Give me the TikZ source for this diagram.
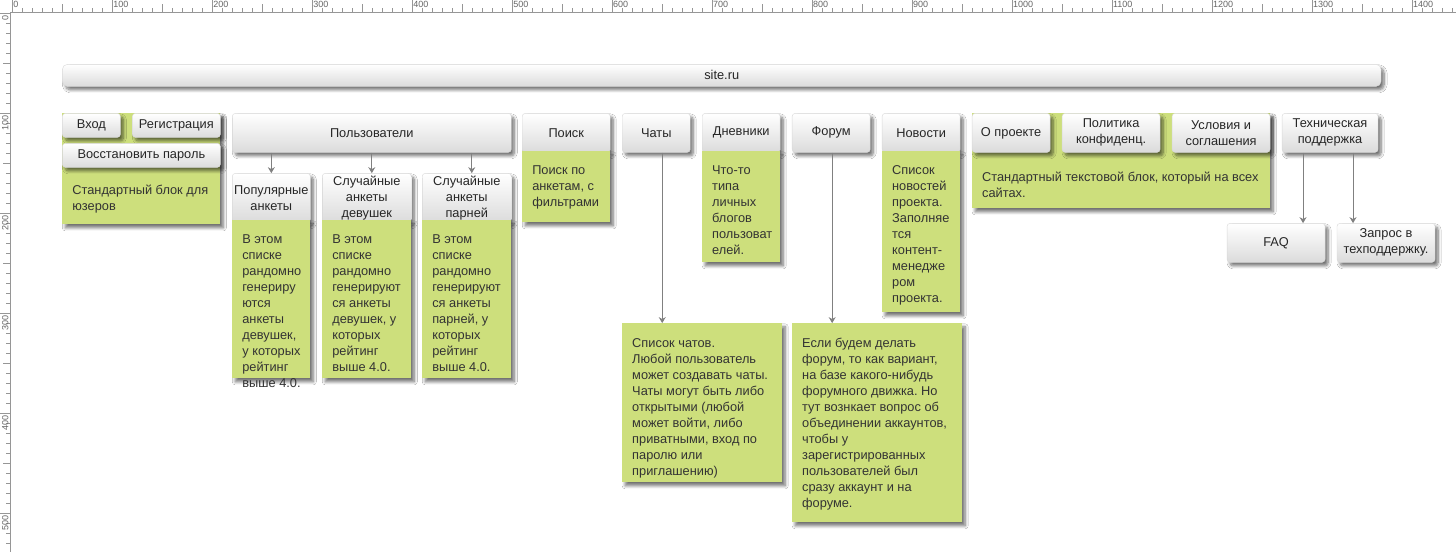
\documentclass[tikz,border=0pt]{standalone}
\usepackage{fontspec}
\setmainfont{Liberation Sans}
\usetikzlibrary{arrows.meta,shadows.blur,positioning}
\frenchspacing

\definecolor{notegreen}{RGB}{205,223,124}
\definecolor{rulergray}{RGB}{150,150,150}

\tikzset{
  shad/.style={blur shadow={shadow xshift=3pt,shadow yshift=-3.5pt,
      shadow blur radius=3pt,shadow blur steps=8,shadow opacity=55}},
  sz/.style 2 args={minimum width=#1,minimum height=#2},
  btn/.style={draw=gray!30,rounded corners=3pt,top color=white,bottom color=gray!28,
    text=black!85,align=center,inner sep=0pt,anchor=north west,shad},
  note/.style={fill=notegreen,inner sep=0pt,anchor=north west,shad},
  notetext/.style={anchor=north west,align=left,inner sep=0pt,text=black!80},
  arr/.style={draw=gray,line width=0.9pt,-{Stealth[length=6pt,width=7pt]}},
  rulerlbl/.style={inner sep=0pt,text=black!60,font=\fontsize{9}{10}\selectfont},
}

\begin{document}
\begin{tikzpicture}[x=1pt,y=-1pt,font=\fontsize{12.8}{16}\selectfont]

  \fill[white] (0,0) rectangle (1456,552);

  % rulers
  \draw[rulergray] (10,12) -- (1456,12);
  \draw[rulergray] (10,12) -- (10,552);
  \foreach \x in {12,22,...,1452}
    \draw[rulergray] (\x,8) -- (\x,12);
  \foreach \x in {62,162,...,1412}
    \draw[rulergray] (\x,4) -- (\x,12);
  \foreach \v in {0,100,...,1400}{
    \draw[rulergray] (12+\v,0) -- (12+\v,12);
    \node[rulerlbl,anchor=north west] (rx-\v) at (13+\v,1) {\v};
  }
  \foreach \y in {13,23,...,543}
    \draw[rulergray] (6,\y) -- (10,\y);
  \foreach \y in {63,163,...,463}
    \draw[rulergray] (3,\y) -- (10,\y);
  \foreach \v in {0,100,...,500}{
    \draw[rulergray] (0,13+\v) -- (10,13+\v);
    \node[rulerlbl,rotate=90,anchor=east] (ry-\v) at (5,15+\v) {\v};
  }

  % site
  \node[btn,sz={1319}{22},rounded corners=5pt] (site) at (62,64) {site.ru};

  % users block
  \node[note,sz={158}{111}] (user-n) at (62,113) {};
  \node[notetext] (user-t) at ([shift={(10,72)}]user-n.north west)
    {Стандартный блок для\\юзеров};
  \node[btn,sz={58}{24}] (vhod) at (62,113) {Вход};
  \node[btn,sz={88}{24}] (reg) at (132,113) {Регистрация};
  \node[btn,sz={158}{24}] (restore) at (62,143) {Восстановить пароль};

  % users
  \node[btn,sz={279}{39}] (polz) at (232,113) {Пользователи};

  \node[btn,sz={78}{49}] (pop) at (232,173) {Популярные\\анкеты};
  \node[btn,sz={89}{49}] (devs) at (322,173) {Случайные\\анкеты\\девушек};
  \node[btn,sz={89}{49}] (parn) at (422,173) {Случайные\\анкеты\\парней};

  \node[note,sz={78}{158}] (pop-n) at (232,220) {};
  \node[note,sz={89}{158}] (devs-n) at (322,220) {};
  \node[note,sz={89}{158}] (parn-n) at (422,220) {};

  \node[notetext] (pop-t) at ([shift={(10,14)}]pop-n.north west)
    {В этом\\списке\\рандомно\\генериру\\ются\\анкеты\\девушек,\\у которых\\рейтинг\\выше 4.0.};
  \node[notetext] (devs-t) at ([shift={(10,14)}]devs-n.north west)
    {В этом\\списке\\рандомно\\генерируют\\ся анкеты\\девушек, у\\которых\\рейтинг\\выше 4.0.};
  \node[notetext] (parn-t) at ([shift={(10,14)}]parn-n.north west)
    {В этом\\списке\\рандомно\\генерируют\\ся анкеты\\парней, у\\которых\\рейтинг\\выше 4.0.};

  \draw[arr] (polz.south -| pop.north) -- (pop.north);
  \draw[arr] ([xshift=5]devs.north |- polz.south) -- ([xshift=5]devs.north);
  \draw[arr] ([xshift=5]parn.north |- polz.south) -- ([xshift=5]parn.north);

  % search, chats, diaries, forum, news
  \node[btn,sz={88}{39}] (poisk) at (522,113) {Поиск};
  \node[note,sz={88}{71}] (poisk-n) at (522,151) {};
  \node[notetext] (poisk-t) at ([shift={(10,14)}]poisk-n.north west)
    {Поиск по\\анкетам, с\\фильтрами};

  \node[btn,sz={68}{39}] (chats) at (622,113) {Чаты};

  \node[btn,sz={78}{39}] (dnev) at (702,113) {Дневники};
  \node[note,sz={78}{111}] (dnev-n) at (702,151) {};
  \node[notetext] (dnev-t) at ([shift={(10,14)}]dnev-n.north west)
    {Что-то\\типа\\личных\\блогов\\пользоват\\елей.};

  \node[btn,sz={78}{39}] (forum) at (792,113) {Форум};

  \node[btn,sz={78}{39}] (news) at (882,113) {Новости};
  \node[note,sz={78}{161}] (news-n) at (882,151) {};
  \node[notetext] (news-t) at ([shift={(10,14)}]news-n.north west)
    {Список\\новостей\\проекта.\\Заполняе\\тся\\контент-\\менедже\\ром\\проекта.};

  \node[note,sz={160}{159}] (chat-n) at (622,323) {};
  \node[notetext] (chat-t) at ([shift={(10,15)}]chat-n.north west)
    {Список чатов.\\Любой пользователь\\может создавать чаты.\\Чаты могут быть либо\\открытыми (любой\\может войти, либо\\приватными, вход по\\паролю или\\приглашению)};

  \node[note,sz={170}{199}] (forum-n) at (792,323) {};
  \node[notetext] (forum-t) at ([shift={(10,15)}]forum-n.north west)
    {Если будем делать\\форум, то как вариант,\\на базе какого-нибудь\\форумного движка. Но\\тут вознкает вопрос об\\объединении аккаунтов,\\чтобы у\\зарегистрированных\\пользователей был\\сразу аккаунт и на\\форуме.};

  \draw[arr] ([xshift=6]chats.south) -- ([xshift=6]chats.south |- chat-n.north);
  \draw[arr] ([xshift=1]forum.south) -- ([xshift=1]forum.south |- forum-n.north);

  % about block
  \node[note,sz={298}{95}] (about-n) at (972,113) {};
  \node[notetext] (about-t) at ([shift={(10,59)}]about-n.north west)
    {Стандартный текстовой блок, который на всех\\сайтах.};
  \node[btn,sz={78}{39}] (about) at (972,113) {О проекте};
  \node[btn,sz={98}{39}] (polit) at (1062,113) {Политика\\конфиденц.};
  \node[btn,sz={98}{39}] (usl) at (1172,113) {Условия и\\соглашения};

  % support
  \node[btn,sz={96}{39}] (tech) at (1282,113) {Техническая\\поддержка};
  \node[btn,sz={98}{39}] (faq) at (1227,223) {FAQ};
  \node[btn,sz={98}{39}] (zapros) at (1337,223) {Запрос в\\техподдержку.};

  \draw[arr] ([xshift=-27]tech.south) -- ([xshift=-27]tech.south |- faq.north);
  \draw[arr] ([xshift=23]tech.south) -- ([xshift=23]tech.south |- zapros.north);

\end{tikzpicture}
\end{document}
